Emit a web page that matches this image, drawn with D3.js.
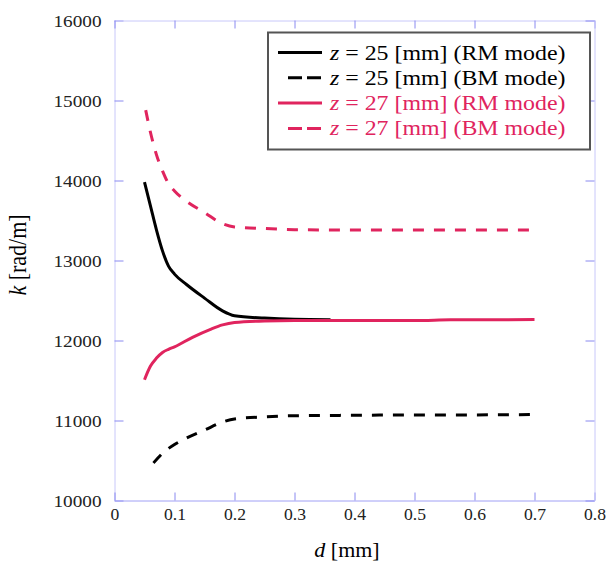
<!DOCTYPE html>
<html>
<head>
<meta charset="utf-8">
<script src="https://cdn.jsdelivr.net/npm/d3@7"></script>
<style>
  body { margin: 0; background: #fff; }
</style>
</head>
<body>
<script>
// data: d [mm] vs k [rad/m]
var d25RM = [0.05, 0.06, 0.07, 0.08, 0.09, 0.1, 0.12, 0.15, 0.18, 0.2, 0.25, 0.3, 0.36];
var k25RM = [13980, 13680, 13380, 13120, 12930, 12830, 12700, 12530, 12370, 12310, 12280, 12265, 12260];

var d25BM = [0.065, 0.08, 0.1, 0.12, 0.15, 0.18, 0.2, 0.25, 0.3, 0.4, 0.5, 0.6, 0.7];
var k25BM = [10470, 10590, 10700, 10780, 10880, 10980, 11020, 11045, 11060, 11065, 11070, 11070, 11075];

var d27RM = [0.05, 0.06, 0.07, 0.08, 0.09, 0.1, 0.13, 0.16, 0.18, 0.2, 0.25, 0.3, 0.4, 0.5, 0.56, 0.7];
var k27RM = [11510, 11680, 11780, 11850, 11890, 11920, 12040, 12140, 12195, 12225, 12245, 12250, 12250, 12250, 12258, 12262];

var d27BM = [0.052, 0.06, 0.07, 0.08, 0.09, 0.1, 0.12, 0.15, 0.18, 0.2, 0.25, 0.3, 0.4, 0.5, 0.6, 0.7];
var k27BM = [14880, 14600, 14320, 14120, 13960, 13870, 13740, 13600, 13460, 13420, 13400, 13385, 13380, 13380, 13380, 13380];

var xTicks = [0, 0.1, 0.2, 0.3, 0.4, 0.5, 0.6, 0.7, 0.8];
var yTicks = [10000, 11000, 12000, 13000, 14000, 15000, 16000];

var legendLabels = ["25 [mm] (RM mode)", "25 [mm] (BM mode)", "27 [mm] (RM mode)", "27 [mm] (BM mode)"];

var serif = "'Liberation Serif', 'Times New Roman', Times, serif";
var pink = "#e0245e";
var series = [
  {d: d25RM, k: k25RM, color: "#000", dash: null},
  {d: d27RM, k: k27RM, color: pink, dash: null},
  {d: d25BM, k: k25BM, color: "#000", dash: "11,10"},
  {d: d27BM, k: k27BM, color: pink, dash: "11,10"}
];
// legend order
var legendSeries = [series[0], series[2], series[1], series[3]];

var W = 608, H = 562;
var svg = d3.select("body").append("svg")
  .attr("width", W).attr("height", H)
  .attr("font-family", serif);

var x = d3.scaleLinear().domain([0, 0.8]).range([114.5, 594.5]);
var y = d3.scaleLinear().domain([10000, 16000]).range([500.5, 20.5]);

var stretch = 1.1;  // the original figure is a little wider than tall

// left axis
var gl = svg.append("g").attr("transform", "translate(" + x(0) + ",0)")
  .call(d3.axisLeft(y).tickValues(yTicks).tickFormat(d3.format("d")).tickSize(-9).tickSizeOuter(0).tickPadding(0));
gl.attr("font-family", serif);
gl.selectAll("text")
  .attr("x", -13 / stretch)
  .attr("transform", "scale(" + stretch + ",1)")
  .attr("font-size", 17.5).attr("fill", "#222");

// bottom axis
var gb = svg.append("g").attr("transform", "translate(0," + y(10000) + ")")
  .call(d3.axisBottom(x).tickValues(xTicks).tickFormat(function(v) { return v === 0 ? "0" : d3.format(".1f")(v); })
    .tickSize(-8).tickSizeOuter(0).tickPadding(8));
gb.attr("font-family", serif);
gb.selectAll("text")
  .attr("transform", "scale(" + stretch + ",1)")
  .attr("font-size", 16).attr("fill", "#222");

// top and right axes, ticks only
svg.append("g").attr("transform", "translate(0," + y(16000) + ")")
  .call(d3.axisTop(x).tickValues(xTicks).tickFormat("").tickSize(-8).tickSizeOuter(0));
svg.append("g").attr("transform", "translate(" + x(0.8) + ",0)")
  .call(d3.axisRight(y).tickValues(yTicks).tickFormat("").tickSize(-9).tickSizeOuter(0));

svg.selectAll(".domain").attr("stroke", "#c8c8fa");
svg.selectAll(".tick line").attr("stroke", "#8a8af0");
gb.select(".domain").attr("stroke", "#a0a0f5");

// curves
var line = d3.line()
  .x(function(p) { return x(p[0]); })
  .y(function(p) { return y(p[1]); })
  .curve(d3.curveMonotoneX);

series.forEach(function(s) {
  var pts = d3.zip(s.d, s.k);
  svg.append("path")
    .datum(pts)
    .attr("d", line)
    .attr("fill", "none")
    .attr("stroke", s.color)
    .attr("stroke-width", 3)
    .attr("stroke-dasharray", s.dash);
});

// axis titles
var yt = svg.append("text")
  .attr("transform", "translate(26,255) rotate(-90) scale(1," + stretch + ")")
  .attr("text-anchor", "middle")
  .attr("font-size", 22);
yt.append("tspan").attr("font-style", "italic").text("k");
yt.append("tspan").text(" [rad/m]");

var xt = svg.append("text")
  .attr("transform", "translate(347,557) scale(" + stretch + ",1)")
  .attr("text-anchor", "middle")
  .attr("font-size", 20);
xt.append("tspan").attr("font-style", "italic").text("d");
xt.append("tspan").text(" [mm]");

// legend
svg.append("rect")
  .attr("x", 268).attr("y", 32.5).attr("width", 322).attr("height", 117)
  .attr("fill", "#fff").attr("stroke", "#555").attr("stroke-width", 2);

legendSeries.forEach(function(s, i) {
  var ly = 52.5 + i * 25.3;
  svg.append("line")
    .attr("x1", s.dash ? 288 : 278).attr("x2", 322)
    .attr("y1", ly).attr("y2", ly)
    .attr("stroke", s.color).attr("stroke-width", 3)
    .attr("stroke-dasharray", s.dash ? "14,5" : null);
  var t = svg.append("text")
    .attr("transform", "translate(330," + (ly + 7) + ") scale(" + stretch + ",1)")
    .attr("fill", s.color)
    .attr("font-size", 21.7);
  t.append("tspan").attr("font-style", "italic").text("z");
  t.append("tspan").text(" = " + legendLabels[i]);
});
</script>
</body>
</html>
